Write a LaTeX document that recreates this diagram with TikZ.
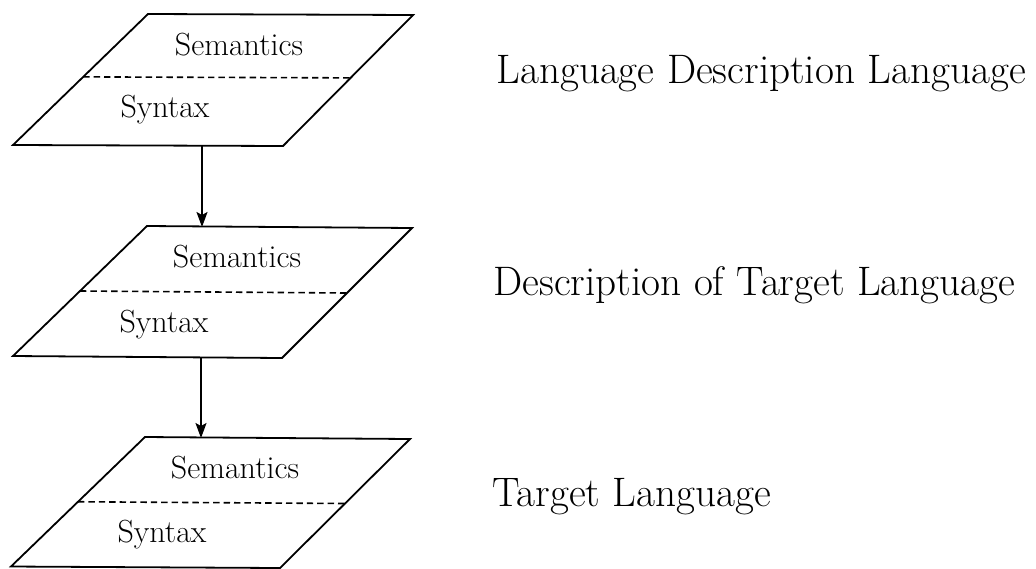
\documentclass[tikz,border=0pt]{standalone}
\usetikzlibrary{calc,arrows.meta}
\begin{document}
\begin{tikzpicture}[x=0.5pt,y=-0.5pt,
  layer/.style={draw,line width=0.9pt,line join=miter},
  divider/.style={draw,line width=0.8pt,dash pattern=on 3.2pt off 2pt},
  inner/.style={font=\fontsize{16}{19}\selectfont,inner sep=0pt},
  side/.style={font=\fontsize{20.6}{24}\selectfont,inner sep=0pt,anchor=base west},
  flow/.style={draw,line width=0.9pt,-{Stealth[length=7.5pt,width=5.5pt,inset=1.5pt]}}]
\useasboundingbox (0,0) rectangle (1036,568);
% layer 1
\coordinate (a1) at (148,14);
\coordinate (b1) at (413,15);
\coordinate (c1) at (283,146);
\coordinate (d1) at (13,145);
% layer 2
\coordinate (a2) at (147,226);
\coordinate (b2) at (412,228);
\coordinate (c2) at (282,358);
\coordinate (d2) at (13,356);
% layer 3
\coordinate (a3) at (145,437);
\coordinate (b3) at (410,439);
\coordinate (c3) at (280,568);
\coordinate (d3) at (11,566.5);
\foreach \i/\f in {1/0.48,2/0.5,3/0.5}{
  \path[layer] (a\i) -- (b\i) -- (c\i) -- (d\i) -- cycle;
  \path[divider] ($(a\i)!\f!(d\i)$) -- ($(b\i)!\f!(c\i)$);
}
\node[inner] (sem1) at (239,45) {Semantics};
\node[inner] (syn1) at (165,110) {Syntax};
\node[inner] (sem2) at (237,257) {Semantics};
\node[inner] (syn2) at (164,325) {Syntax};
\node[inner] (sem3) at (235,468) {Semantics};
\node[inner] (syn3) at (162,535) {Syntax};
\node[side] (l1) at (496,83) {Language Description Language};
\node[side] (l2) at (493,295) {Description of Target Language};
\node[side] (l3) at (492,506) {Target Language};
% arrows
\coordinate (s1) at (202,146);
\coordinate (t1) at (202,227);
\coordinate (s2) at (201,358);
\coordinate (t2) at (201,438);
\path[flow] (s1) -- (t1);
\path[flow] (s2) -- (t2);
\end{tikzpicture}
\end{document}
